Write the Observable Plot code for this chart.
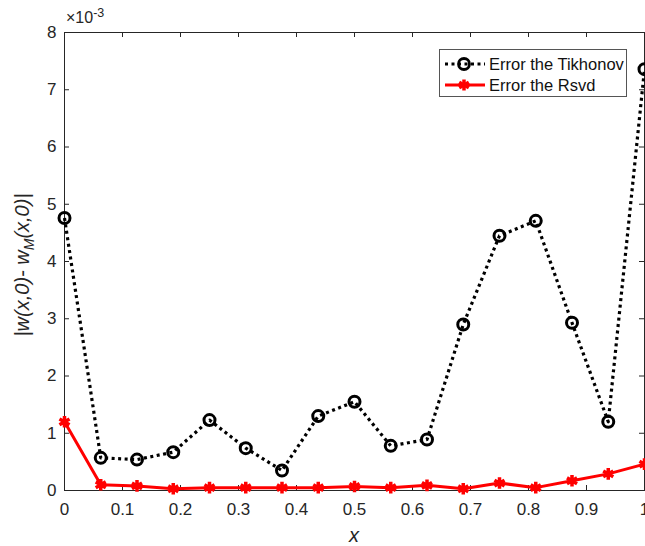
<!DOCTYPE html>
<html>
<head>
<meta charset="utf-8">
<script src="https://cdn.jsdelivr.net/npm/d3@7"></script>
<script src="https://cdn.jsdelivr.net/npm/@observablehq/plot@0.6"></script>
<style>
  body { margin: 0; background: #fff; }
  #wrap { position: relative; width: 645px; height: 546px; font-family: "Liberation Sans", Arial, sans-serif; }
  #legend { position: absolute; left: 439px; top: 49px; width: 188px; height: 48px; border: 1px solid #555; background: #fff; box-sizing: border-box; }
  #legend .row { position: absolute; left: 0; height: 20px; display: flex; align-items: center; font-size: 16.5px; color: #111; }
  #legend svg { display: block; margin-left: 4px; margin-right: 3px; }
</style>
</head>
<body>
<div id="wrap"></div>
<script>
const xs = [0, 0.0625, 0.125, 0.1875, 0.25, 0.3125, 0.375, 0.4375, 0.5, 0.5625, 0.625, 0.6875, 0.75, 0.8125, 0.875, 0.9375, 1];
const tikhonov = [4.76, 0.57, 0.54, 0.67, 1.23, 0.74, 0.35, 1.30, 1.55, 0.78, 0.89, 2.90, 4.45, 4.71, 2.93, 1.20, 7.36].map(v => v * 1e-3);
const rsvd = [1.20, 0.10, 0.08, 0.03, 0.05, 0.05, 0.05, 0.05, 0.07, 0.05, 0.09, 0.03, 0.13, 0.05, 0.17, 0.29, 0.46].map(v => v * 1e-3);
const xTicks = [0, 0.1, 0.2, 0.3, 0.4, 0.5, 0.6, 0.7, 0.8, 0.9, 1];
const yTicks = [0, 1, 2, 3, 4, 5, 6, 7, 8].map(v => v * 1e-3);
const seriesNames = ["Error the Tikhonov", "Error the Rsvd"];

const tData = xs.map((x, i) => ({x, y: tikhonov[i]}));
const rData = xs.map((x, i) => ({x, y: rsvd[i]}));

const W = 645, H = 546, mt = 32, mb = 56, ml = 64, mr = 1;
const fh = H - mt - mb, fw = W - ml - mr;
const tl = 5;

const chart = Plot.plot({
  width: W, height: H,
  marginTop: mt, marginBottom: mb, marginLeft: ml, marginRight: mr,
  style: { fontFamily: "Liberation Sans, Arial, sans-serif", fontSize: "17px", color: "#262626", background: "#fff", overflow: "visible" },
  x: { domain: [0, 1] },
  y: { domain: [0, 0.008] },
  marks: [
    Plot.frame({ stroke: "#262626", strokeWidth: 1 }),
    Plot.axisX(xTicks, { anchor: "bottom", tickSize: 0, tickPadding: 12, tickFormat: d => d === 0 || d === 1 ? String(d) : d.toFixed(1), label: null, fill: "#262626", fontSize: 17 }),
    Plot.axisY(yTicks, { anchor: "left", tickSize: 0, tickPadding: 8, tickFormat: d => String(Math.round(d * 1000)), label: null, fill: "#262626", fontSize: 17 }),
    // inward ticks
    Plot.tickX(xTicks, { x: d => d, stroke: "#262626", insetTop: fh - tl }),
    Plot.tickX(xTicks, { x: d => d, stroke: "#262626", insetBottom: fh - tl }),
    Plot.tickY(yTicks, { y: d => d, stroke: "#262626", insetRight: fw - tl }),
    Plot.tickY(yTicks, { y: d => d, stroke: "#262626", insetLeft: fw - tl }),
    Plot.line(tData, { x: "x", y: "y", stroke: "#000", strokeWidth: 3.2, strokeDasharray: "3,3.5", strokeLinecap: "butt" }),
    Plot.dot(tData, { x: "x", y: "y", r: 5.5, stroke: "#000", strokeWidth: 3, fill: "none" }),
    Plot.line(rData, { x: "x", y: "y", stroke: "#ff0000", strokeWidth: 3 }),
    Plot.dot(rData, { x: "x", y: "y", symbol: "asterisk", r: 5.5, stroke: "#ff0000", strokeWidth: 3.5 })
  ]
});

const wrap = document.getElementById("wrap");
wrap.appendChild(chart);

const svg = d3.select(chart);
// exponent
const ex = svg.append("text").attr("x", 66).attr("y", 23).attr("fill", "#262626").attr("text-anchor", "start")
  .style("font-family", "Liberation Sans, Arial, sans-serif").style("font-size", "16px");
ex.append("tspan").text("\u00d710");
ex.append("tspan").attr("dy", -6).style("font-size", "12.5px").text("-3");

// x label
svg.append("text").attr("x", ml + fw / 2).attr("y", 542).attr("text-anchor", "middle")
  .attr("fill", "#262626").style("font-style", "italic").style("font-size", "20px")
  .style("font-family", "Liberation Sans, Arial, sans-serif").text("x");

// y label
const yl = svg.append("text").attr("transform", `translate(29,${mt + fh / 2 + 4}) rotate(-90)`)
  .attr("text-anchor", "middle").attr("fill", "#262626").style("font-style", "italic").style("font-size", "20px")
  .style("font-family", "Liberation Sans, Arial, sans-serif");
yl.append("tspan").text("|w(x,0)- w");
yl.append("tspan").attr("dy", 5).style("font-size", "14px").text("M");
yl.append("tspan").attr("dy", -5).text("(x,0)|");

// legend
const lg = document.createElement("div");
lg.id = "legend";
const rows = [
  { name: seriesNames[0], top: 4, svg: `<svg width="42" height="20"><line x1="1" y1="10" x2="41" y2="10" stroke="#000" stroke-width="3" stroke-dasharray="3,3.5"/><circle cx="20" cy="10" r="5.5" stroke="#000" stroke-width="2.8" fill="none"/></svg>` },
  { name: seriesNames[1], top: 25, svg: `<svg width="42" height="20"><line x1="1" y1="10" x2="41" y2="10" stroke="#f00" stroke-width="3"/><g stroke="#f00" stroke-width="3.5"><line x1="20" y1="4.5" x2="20" y2="15.5"/><line x1="15.2" y1="7.2" x2="24.8" y2="12.8"/><line x1="15.2" y1="12.8" x2="24.8" y2="7.2"/></g></svg>` }
];
rows.forEach(r => {
  const d = document.createElement("div");
  d.className = "row";
  d.style.top = r.top + "px";
  d.innerHTML = r.svg + `<span>${r.name}</span>`;
  lg.appendChild(d);
});
wrap.appendChild(lg);
</script>
</body>
</html>
